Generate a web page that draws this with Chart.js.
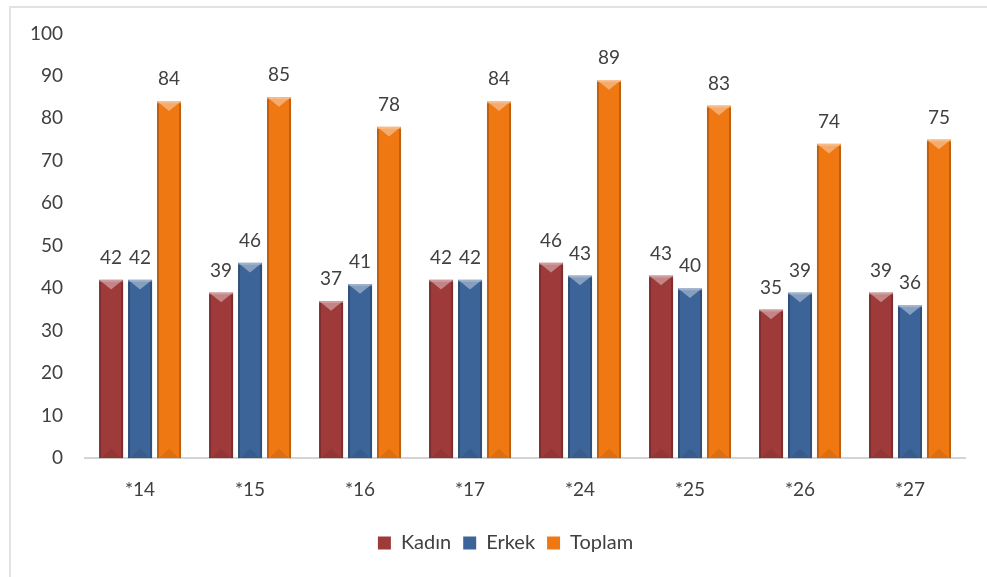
<!DOCTYPE html>
<html>
<head>
<meta charset="utf-8">
<script src="https://cdn.jsdelivr.net/npm/chart.js@4"></script>
<style>
  html, body { margin: 0; padding: 0; background: #fff; }
  #frame { position: absolute; left: 9px; top: 6px; width: 1000px; height: 600px; border-left: 2px solid #e2e2e2; border-top: 2px solid #e2e2e2; }
  #wrap { position: absolute; left: 0; top: 0; width: 987px; height: 577px; }
</style>
</head>
<body>
<div id="frame"></div>
<div id="wrap"><canvas id="chart"></canvas></div>
<script>
const categories = ['*14', '*15', '*16', '*17', '*24', '*25', '*26', '*27'];
const kadin = [42, 39, 37, 42, 46, 43, 35, 39];
const erkek = [42, 46, 41, 42, 43, 40, 39, 36];
const toplam = [84, 85, 78, 84, 89, 83, 74, 75];

const FONT = 'Lato, "Open Sans", sans-serif';

// shading to give the bars the bevelled look
const bevelPlugin = {
    id: 'bevel',
    afterDatasetsDraw(chart) {
        const ctx = chart.ctx;
        chart.data.datasets.forEach((ds, i) => {
            chart.getDatasetMeta(i).data.forEach(bar => {
                const w = bar.width;
                const l = bar.x - w / 2, r = bar.x + w / 2;
                const t = bar.y, b = bar.base;
                const d = Math.min(w * 0.4, (b - t) / 2);
                ctx.save();
                // top light triangle
                ctx.fillStyle = 'rgba(255,255,255,0.38)';
                ctx.beginPath();
                ctx.moveTo(l, t); ctx.lineTo(r, t); ctx.lineTo(bar.x, t + d);
                ctx.closePath(); ctx.fill();
                ctx.fillStyle = 'rgba(255,255,255,0.2)';
                ctx.fillRect(l, t, w, 2);
                // side edges darker
                ctx.fillStyle = 'rgba(0,0,0,0.2)';
                ctx.fillRect(l, t + 2, 2, b - t - 2);
                ctx.fillRect(r - 2, t + 2, 2, b - t - 2);
                // bottom subtle triangle
                ctx.fillStyle = 'rgba(0,0,0,0.08)';
                ctx.beginPath();
                ctx.moveTo(l + 2, b); ctx.lineTo(r - 2, b); ctx.lineTo(bar.x, b - d);
                ctx.closePath(); ctx.fill();
                ctx.restore();
            });
        });
    }
};

const valueLabels = {
    id: 'valueLabels',
    afterDatasetsDraw(chart) {
        const ctx = chart.ctx;
        ctx.save();
        ctx.font = '19px ' + FONT;
        ctx.fillStyle = '#404040';
        ctx.textAlign = 'center';
        ctx.textBaseline = 'alphabetic';
        chart.data.datasets.forEach((ds, i) => {
            chart.getDatasetMeta(i).data.forEach((bar, j) => {
                ctx.fillText(ds.data[j], bar.x, bar.y - 16);
            });
        });
        ctx.restore();
    }
};

// legend sits a bit right of the canvas centre in the original
const legendShift = {
    id: 'legendShift',
    afterLayout(chart) {
        chart.legend.left += 19;
        chart.legend.right += 19;
    }
};

const bars = {
    categoryPercentage: 0.79,
    barPercentage: 0.83,
    borderWidth: 0
};

new Chart(document.getElementById('chart'), {
    type: 'bar',
    data: {
        labels: categories,
        datasets: [
            { label: 'Kadın', data: kadin, backgroundColor: '#9E3A3A', ...bars },
            { label: 'Erkek', data: erkek, backgroundColor: '#3C6498', ...bars },
            { label: 'Toplam', data: toplam, backgroundColor: '#EF7812', ...bars }
        ]
    },
    options: {
        responsive: true,
        maintainAspectRatio: false,
        animation: false,
        layout: { padding: { left: 8, right: 22, top: 25, bottom: 14 } },
        scales: {
            x: {
                grid: { display: false, drawTicks: false },
                border: { display: true, color: '#d4d4d4', width: 2 },
                ticks: { color: '#404040', font: { family: FONT, size: 19 }, padding: 20 }
            },
            y: {
                min: 0,
                max: 100,
                grid: { display: false, drawTicks: false },
                border: { display: false },
                ticks: { stepSize: 10, color: '#404040', font: { family: FONT, size: 19 }, padding: 22 }
            }
        },
        plugins: {
            legend: {
                position: 'bottom',
                labels: { color: '#404040', font: { family: FONT, size: 20 }, boxWidth: 13, boxHeight: 13, padding: 12 }
            },
            tooltip: { enabled: false }
        }
    },
    plugins: [bevelPlugin, valueLabels, legendShift]
});
</script>
</body>
</html>
